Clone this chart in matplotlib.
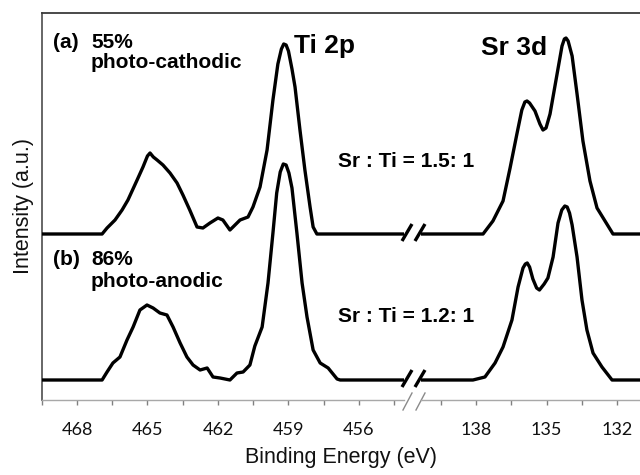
import matplotlib.pyplot as plt
from matplotlib.transforms import blended_transform_factory

# Ti 2p region, spectrum (a) 55% photo-cathodic
ti_energy_a = [469.5, 466.93, 466.72, 466.38, 466.08, 465.83, 465.44, 465.19, 465.0, 464.89,
               464.75, 464.59, 464.34, 464.04, 463.74, 463.49, 463.2, 462.89, 462.64, 462.34,
               462.0, 461.79, 461.49, 461.36, 461.06, 460.72, 460.51, 460.21, 459.91,
               459.66, 459.45, 459.3, 459.2, 459.1, 459.0, 458.85, 458.72, 458.51, 458.3,
               458.08, 457.95, 457.79, 454.0]
ti_counts_a = [0, 0, 6, 14, 24, 34, 54, 67, 78, 81,
               77, 74, 69, 61, 51, 39, 24, 7, 6, 11,
               16, 14, 4, 7, 14, 17, 27, 47, 84,
               134, 170, 185, 190, 189, 183, 165, 147, 104, 64,
               27, 7, 0, 0]

# Ti 2p region, spectrum (b) 86% photo-anodic
ti_energy_b = [469.5, 466.93, 466.72, 466.47, 466.17, 465.87, 465.61, 465.32, 465.02,
               464.76, 464.47, 464.17, 463.91, 463.61, 463.32, 463.06, 462.76, 462.46,
               462.21, 461.91, 461.49, 461.19, 460.93, 460.64, 460.43, 460.12, 459.87,
               459.66, 459.5, 459.35, 459.22, 459.1, 458.98, 458.85, 458.64, 458.42,
               458.21, 457.95, 457.65, 457.31, 456.93, 456.8, 454.0]
ti_counts_b = [0, 0, 8, 17, 23, 40, 53, 70, 75,
               72, 67, 65, 53, 37, 23, 15, 10, 12,
               3, 2, 0, 7, 8, 15, 34, 53, 97,
               147, 187, 208, 216, 215, 207, 192, 147, 97,
               63, 30, 17, 12, 1, 0, 0]

# Sr 3d region, spectrum (a)
sr_energy_a = [140.4, 137.7, 137.28, 136.85, 136.55, 136.26, 136.05, 135.92, 135.83,
               135.72, 135.49, 135.28, 135.15, 135.02, 134.85, 134.55, 134.34, 134.24,
               134.17, 134.08, 133.91, 133.7, 133.45, 133.15, 132.85, 132.51, 132.17, 131.0]
sr_counts_a = [0, 0, 13, 33, 66, 100, 124, 132, 133,
               131, 123, 110, 104, 106, 120, 160, 188, 195,
               196, 193, 178, 140, 93, 53, 26, 13, 0, 0]

# Sr 3d region, spectrum (b)
sr_energy_b = [140.4, 138.13, 137.62, 137.19, 136.85, 136.47, 136.21, 136.0, 135.9,
               135.82, 135.72, 135.58, 135.42, 135.3, 135.1, 134.94, 134.72, 134.51,
               134.35, 134.22, 134.12, 134.02, 133.91, 133.7, 133.49, 133.28, 133.02,
               132.64, 132.21, 131.0]
sr_counts_b = [0, 0, 3, 17, 33, 60, 93, 112, 116,
               117, 113, 101, 92, 90, 96, 102, 123, 157,
               170, 174, 173, 167, 155, 123, 80, 50, 27,
               13, 0, 0]

offset_a = 146
offset_b = 0

ti_ticks = [469.5, 468, 466.5, 465, 463.5, 462, 460.5, 459, 457.5, 456, 454.5]
sr_ticks = [139.5, 138, 136.5, 135, 133.5, 132]

W, H = 640, 475


def fx(px):
    return px / W


def fy(py):
    return 1 - py / H


fig = plt.figure(figsize=(6.4, 4.75), dpi=100)

left, right, top, bottom = 41.7, 640, 13, 400
brk_l, brk_r = 404, 421

# frame: top and left border
frame = fig.add_axes([fx(left), fy(bottom), fx(right - left), fy(top) - fy(bottom)])
frame.set_xticks([])
frame.set_yticks([])
for s in ["right", "bottom"]:
    frame.spines[s].set_visible(False)
frame.spines["top"].set_color("#3a3a3a")
frame.spines["top"].set_linewidth(1.3)
frame.spines["left"].set_color("#5a5a5a")
frame.spines["left"].set_linewidth(1.3)
frame.set_zorder(0)

ax_ti = fig.add_axes([fx(left), fy(bottom), fx(brk_l - left), fy(top) - fy(bottom)])
ax_sr = fig.add_axes([fx(brk_r), fy(bottom), fx(right - brk_r), fy(top) - fy(bottom)])

line_kw = dict(color="black", lw=2.4, solid_joinstyle="round", solid_capstyle="butt")
ax_ti.plot(ti_energy_a, [v + offset_a for v in ti_counts_a], **line_kw)
ax_ti.plot(ti_energy_b, [v + offset_b for v in ti_counts_b], **line_kw)
ax_sr.plot(sr_energy_a, [v + offset_a for v in sr_counts_a], **line_kw)
ax_sr.plot(sr_energy_b, [v + offset_b for v in sr_counts_b], **line_kw)

ax_ti.set_xlim(469.5, 469.5 - (brk_l - left) / 23.5)
ax_sr.set_xlim(138 + (476 - brk_r) / 23.5, 132 - (right - 617) / 23.5)

for ax, ticks in [(ax_ti, ti_ticks), (ax_sr, sr_ticks)]:
    ax.set_facecolor("none")
    ax.set_zorder(1)
    ax.set_ylim(-20, 367)
    ax.set_yticks([])
    for s in ["top", "right", "left"]:
        ax.spines[s].set_visible(False)
    ax.spines["bottom"].set_color("#a8a8a8")
    ax.spines["bottom"].set_linewidth(1.0)
    ax.set_xticks(ticks)
    ax.set_xticklabels([f"{t:g}" if t % 3 == 0 else "" for t in ticks])
    ax.tick_params(axis="x", direction="out", length=3.5, width=1.0, color="#808080",
                   pad=12, labelsize=13)
    for lab in ax.get_xticklabels():
        lab.set_fontfamily("Lato")
        lab.set_color("#111111")

# break marks on the baselines and the axis line
trans = blended_transform_factory(fig.transFigure, ax_ti.transData)
for base in [offset_a, offset_b]:
    for x0 in [402, 415]:
        ax_ti.plot([fx(x0), fx(x0 + 10)], [base - 7, base + 10], transform=trans,
                   color="black", lw=2.4, clip_on=False, solid_capstyle="butt")
for x0 in [403, 416]:
    ax_ti.plot([fx(x0), fx(x0 + 9)], [-30, -13], transform=trans,
               color="#8a8a8a", lw=1.0, clip_on=False)

bold = dict(fontfamily="Liberation Sans", fontweight="bold", color="black", va="baseline")
fig.text(fx(53), fy(48), "(a)", fontsize=15, **bold)
fig.text(fx(91), fy(48), "55%", fontsize=15, **bold)
fig.text(fx(91), fy(68), "photo-cathodic", fontsize=15, **bold)
fig.text(fx(53), fy(265), "(b)", fontsize=15, **bold)
fig.text(fx(91), fy(265), "86%", fontsize=15, **bold)
fig.text(fx(91), fy(287), "photo-anodic", fontsize=15, **bold)
fig.text(fx(294), fy(53), "Ti 2p", fontsize=19, **bold)
fig.text(fx(481), fy(55), "Sr 3d", fontsize=19, **bold)
fig.text(fx(338), fy(167), "Sr : Ti = 1.5: 1", fontsize=15, **bold)
fig.text(fx(338), fy(322), "Sr : Ti = 1.2: 1", fontsize=15, **bold)

fig.text(fx(23), fy(206), "Intensity (a.u.)", rotation=90, fontsize=15.5,
         fontfamily="Liberation Sans", ha="center", va="center", color="#111111")
fig.text(fx(341), fy(458), "Binding Energy (eV)", fontsize=15.5,
         fontfamily="Liberation Sans", ha="center", va="center", color="#111111")

fig.savefig("out.png", dpi=100)
